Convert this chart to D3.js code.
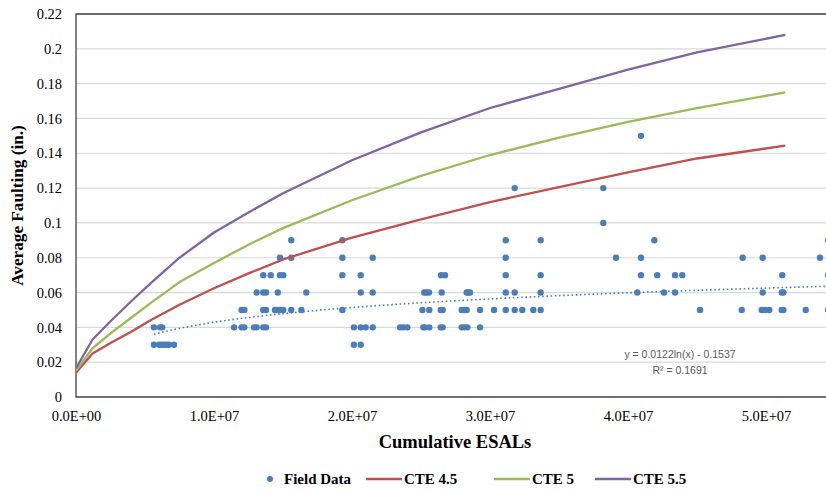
<!DOCTYPE html>
<html><head><meta charset="utf-8">
<script src="https://cdn.jsdelivr.net/npm/d3@7"></script>
<style>body{margin:0;background:#fff} svg{display:block}</style>
</head><body><svg id="c" width="826" height="491"></svg>
<script>
// ---- data ----
const xTickValues = [0, 1e7, 2e7, 3e7, 4e7, 5e7];
const xTickLabels = ["0.0E+00", "1.0E+07", "2.0E+07", "3.0E+07", "4.0E+07", "5.0E+07"];
const yTickValues = [0, 0.02, 0.04, 0.06, 0.08, 0.1, 0.12, 0.14, 0.16, 0.18, 0.2, 0.22];
const yTickLabels = ["0", "0.02", "0.04", "0.06", "0.08", "0.1", "0.12", "0.14", "0.16", "0.18", "0.2", "0.22"];

const fieldESALs = [
  // 0.03
  5.65e6, 6.04e6, 6.21e6, 6.40e6, 6.57e6, 6.74e6, 7.10e6, 2.014e7, 2.063e7,
  // 0.04
  5.65e6, 6.09e6, 6.25e6, 1.145e7, 1.20e7, 1.22e7, 1.29e7, 1.309e7, 1.357e7, 1.377e7,
  2.014e7, 2.063e7, 2.099e7, 2.15e7, 2.348e7, 2.372e7, 2.401e7, 2.517e7, 2.529e7, 2.56e7,
  2.643e7, 2.657e7, 2.795e7, 2.814e7, 2.836e7, 2.928e7,
  // 0.05
  1.20e7, 1.22e7, 1.357e7, 1.377e7, 1.442e7, 1.459e7, 1.478e7, 1.502e7, 1.56e7, 1.633e7,
  1.93e7, 2.51e7, 2.56e7, 2.643e7, 2.657e7, 2.795e7, 2.814e7, 2.831e7, 2.928e7, 3.029e7,
  3.114e7, 3.179e7, 3.234e7, 3.314e7, 3.367e7, 4.522e7, 4.824e7, 4.969e7, 4.993e7, 5.024e7,
  5.114e7, 5.126e7, 5.288e7, 5.45e7,
  // 0.06
  1.309e7, 1.357e7, 1.377e7, 1.462e7, 1.669e7, 2.063e7, 2.15e7, 2.524e7, 2.541e7, 2.558e7,
  2.65e7, 2.831e7, 2.843e7, 2.855e7, 3.114e7, 3.179e7, 3.367e7, 4.067e7, 4.261e7, 4.341e7,
  4.976e7, 5.114e7, 5.126e7,
  // 0.07
  1.357e7, 1.411e7, 1.478e7, 1.502e7, 1.93e7, 2.063e7, 2.645e7, 2.674e7, 3.114e7, 3.367e7,
  4.094e7, 4.212e7, 4.341e7, 4.393e7, 5.118e7, 5.45e7,
  // 0.08
  1.478e7, 1.56e7, 1.93e7, 2.15e7, 3.114e7, 3.913e7, 4.094e7, 4.831e7, 4.976e7, 5.391e7,
  // 0.09
  1.56e7, 1.93e7, 3.114e7, 3.367e7, 4.191e7, 5.45e7,
  // 0.10, 0.12, 0.15
  3.821e7, 3.179e7, 3.821e7, 4.094e7
];
const fieldFaulting = [
  0.03,0.03,0.03,0.03,0.03,0.03,0.03,0.03,0.03,
  0.04,0.04,0.04,0.04,0.04,0.04,0.04,0.04,0.04,0.04,
  0.04,0.04,0.04,0.04,0.04,0.04,0.04,0.04,0.04,0.04,
  0.04,0.04,0.04,0.04,0.04,0.04,
  0.05,0.05,0.05,0.05,0.05,0.05,0.05,0.05,0.05,0.05,
  0.05,0.05,0.05,0.05,0.05,0.05,0.05,0.05,0.05,0.05,
  0.05,0.05,0.05,0.05,0.05,0.05,0.05,0.05,0.05,0.05,
  0.05,0.05,0.05,0.05,
  0.06,0.06,0.06,0.06,0.06,0.06,0.06,0.06,0.06,0.06,
  0.06,0.06,0.06,0.06,0.06,0.06,0.06,0.06,0.06,0.06,
  0.06,0.06,0.06,
  0.07,0.07,0.07,0.07,0.07,0.07,0.07,0.07,0.07,0.07,
  0.07,0.07,0.07,0.07,0.07,0.07,
  0.08,0.08,0.08,0.08,0.08,0.08,0.08,0.08,0.08,0.08,
  0.09,0.09,0.09,0.09,0.09,0.09,
  0.10, 0.12, 0.12, 0.15
];

const curveESALs = [0, 1.2e6, 2.5e6, 4e6, 5.5e6, 7.5e6, 1e7, 1.25e7, 1.5e7, 2e7, 2.5e7, 3e7, 3.5e7, 4e7, 4.5e7, 5.14e7];
const cte45 = [0.014, 0.025, 0.031, 0.0375, 0.0445, 0.053, 0.0625, 0.071, 0.079, 0.0915, 0.102, 0.112, 0.1205, 0.129, 0.137, 0.1444];
const cte5  = [0.015, 0.028, 0.0365, 0.0455, 0.0545, 0.066, 0.077, 0.0875, 0.097, 0.113, 0.127, 0.139, 0.149, 0.158, 0.166, 0.175];
const cte55 = [0.0165, 0.033, 0.0435, 0.055, 0.066, 0.080, 0.0945, 0.106, 0.117, 0.136, 0.152, 0.166, 0.177, 0.188, 0.198, 0.208];

const seriesNames = ["Field Data", "CTE 4.5", "CTE 5", "CTE 5.5"];
const trendA = 0.0122, trendB = -0.1537;
const trendLabel = "y = 0.0122ln(x) - 0.1537";
const r2Label = "R² = 0.1691";

// ---- layout ----
const svg = d3.select("#c");
const pLeft = 76, pTop = 14, pBottom = 397, pRight = 835;
const x = d3.scaleLinear().domain([0, 5.5e7]).range([pLeft, pRight]);
const y = d3.scaleLinear().domain([0, 0.22]).range([pBottom, pTop]);
const colors = {field: "#4a7ebb", r: "#c0504d", g: "#9bbb59", p: "#8064a2"};
const serif = "'Liberation Serif','Times New Roman',serif";

svg.append("defs").append("clipPath").attr("id", "pc")
  .append("rect").attr("x", pLeft).attr("y", pTop).attr("width", pRight - pLeft).attr("height", pBottom - pTop);

// gridlines
svg.append("g").selectAll("line").data(yTickValues.slice(1)).join("line")
  .attr("x1", pLeft).attr("x2", pRight).attr("y1", d => y(d)).attr("y2", d => y(d))
  .attr("stroke", "#d9d9d9").attr("stroke-width", 1.2);

// axes
const xAxis = d3.axisBottom(x).tickValues(xTickValues).tickFormat((d, i) => xTickLabels[i]).tickSize(0).tickPadding(14);
const gx = svg.append("g").attr("transform", `translate(0,${pBottom})`).call(xAxis);
gx.select(".domain").remove();
gx.selectAll("text").attr("font-family", serif).attr("font-size", 14.5).attr("fill", "#000");

const yAxis = d3.axisLeft(y).tickValues(yTickValues).tickFormat((d, i) => yTickLabels[i]).tickSize(0).tickPadding(14);
const gy = svg.append("g").attr("transform", `translate(${pLeft},0)`).call(yAxis);
gy.select(".domain").remove();
gy.selectAll("text").attr("font-family", serif).attr("font-size", 14.5).attr("fill", "#000");

// plot border
svg.append("path")
  .attr("d", `M${pRight},${pTop}H${pLeft}V${pBottom}H${pRight}`)
  .attr("fill", "none").attr("stroke", "#404040").attr("stroke-width", 1.3);

const plot = svg.append("g").attr("clip-path", "url(#pc)");

// trendline (Excel logarithmic trendline from displayed coefficients)
const xMin = d3.min(fieldESALs);
const trendXs = d3.range(0, 201).map(i => xMin + (5.6e7 - xMin) * i / 200);
plot.append("path")
  .attr("d", d3.line().x(d => x(d)).y(d => y(trendA * Math.log(d) + trendB))(trendXs))
  .attr("fill", "none").attr("stroke", colors.field).attr("stroke-width", 1.6)
  .attr("stroke-dasharray", "1.6,2.6");

// field data
plot.append("g").selectAll("circle").data(fieldESALs).join("circle")
  .attr("cx", d => x(d)).attr("cy", (d, i) => y(fieldFaulting[i])).attr("r", 3.2)
  .attr("fill", colors.field);

// curves
const line = d3.line().x((d, i) => x(curveESALs[i])).y(d => y(d));
[[cte45, colors.r], [cte5, colors.g], [cte55, colors.p]].forEach(([vals, c]) => {
  plot.append("path").attr("d", line(vals)).attr("fill", "none")
    .attr("stroke", c).attr("stroke-width", 2.3).attr("stroke-linejoin", "round");
});

// trend labels
svg.append("text").attr("x", 680).attr("y", 358).attr("text-anchor", "middle")
  .attr("font-family", "'Liberation Sans',Arial,sans-serif").attr("font-size", 10.5).attr("fill", "#595959")
  .text(trendLabel);
svg.append("text").attr("x", 680).attr("y", 374).attr("text-anchor", "middle")
  .attr("font-family", "'Liberation Sans',Arial,sans-serif").attr("font-size", 10.5).attr("fill", "#595959")
  .text(r2Label);

// axis titles
svg.append("text").attr("x", 455).attr("y", 448).attr("text-anchor", "middle")
  .attr("font-family", serif).attr("font-weight", "bold").attr("font-size", 18.5).text("Cumulative ESALs");
svg.append("text").attr("transform", "translate(23,205.5) rotate(-90)").attr("text-anchor", "middle")
  .attr("font-family", serif).attr("font-weight", "bold").attr("font-size", 17.2).text("Average Faulting (in.)");

// legend
const lg = svg.append("g").attr("font-family", serif).attr("font-weight", "bold").attr("font-size", 15);
const ly = 479;
lg.append("circle").attr("cx", 270).attr("cy", ly).attr("r", 3).attr("fill", colors.field);
lg.append("text").attr("x", 284).attr("y", ly + 5).text(seriesNames[0]);
const lineItems = [[colors.r, 366, seriesNames[1]], [colors.g, 494, seriesNames[2]], [colors.p, 595, seriesNames[3]]];
lineItems.forEach(([c, x0, t]) => {
  lg.append("line").attr("x1", x0).attr("x2", x0 + 36).attr("y1", ly).attr("y2", ly)
    .attr("stroke", c).attr("stroke-width", 2.3);
  lg.append("text").attr("x", x0 + 38).attr("y", ly + 5).text(t);
});
</script>
</body></html>
